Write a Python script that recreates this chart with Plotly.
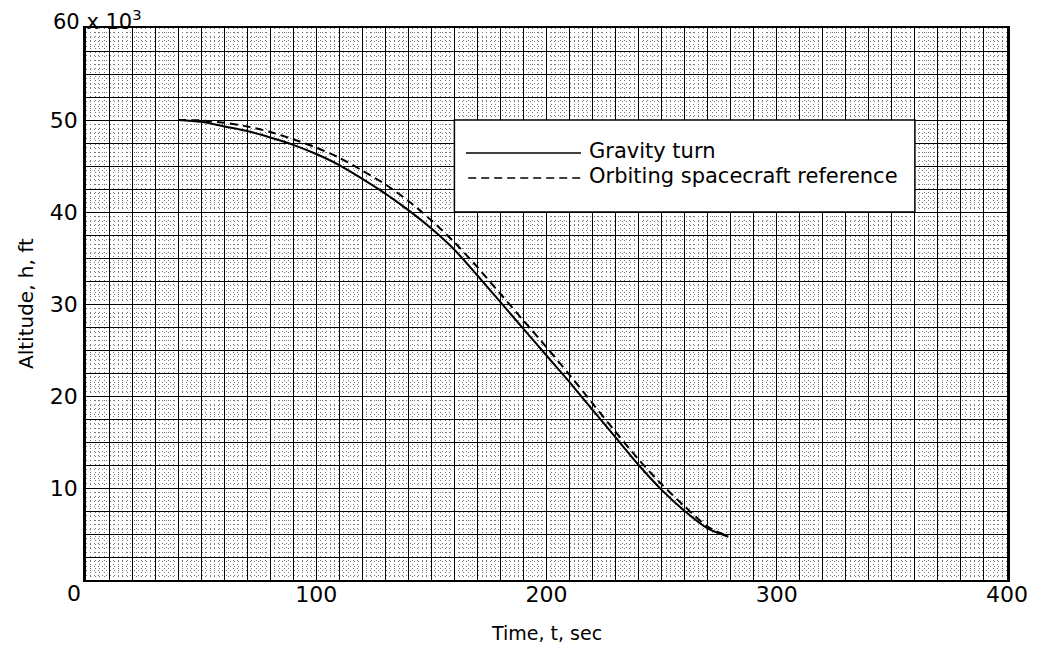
import plotly.graph_objects as go

# ---- data ----
t_gravity = [40, 50, 60, 70, 80, 90, 100, 110, 120, 130, 140, 150, 160, 170, 180,
             190, 200, 210, 220, 230, 240, 250, 260, 270, 279]
h_gravity = [50.0, 49.8, 49.3, 48.8, 48.1, 47.3, 46.3, 45.1, 43.6, 42.0, 40.2, 38.2,
             35.9, 33.1, 30.2, 27.3, 24.4, 21.5, 18.5, 15.5, 12.5, 9.8, 7.5, 5.6, 4.7]

t_orbit = [40, 50, 60, 70, 80, 90, 100, 110, 120, 130, 140, 150, 160, 170, 180,
           190, 200, 210, 220, 230, 240, 250, 260, 270, 278]
h_orbit = [50.0, 49.95, 49.7, 49.3, 48.7, 47.9, 47.0, 45.9, 44.5, 43.0, 41.2, 39.1,
           36.7, 34.0, 31.1, 28.2, 25.3, 22.3, 19.2, 16.1, 13.1, 10.4, 8.0, 5.8, 4.85]

series_names = ["Gravity turn", "Orbiting spacecraft reference"]

x_tick_vals = list(range(0, 401, 10))
x_tick_text = [str(v) if v % 100 == 0 and v > 0 else "" for v in x_tick_vals]
y_tick_vals = [v * 2.5 for v in range(0, 25)]
y_tick_text = [str(int(v)) if v % 10 == 0 and 0 < v < 60 else "" for v in y_tick_vals]

FONT = "DejaVu Sans"

fig = go.Figure()
fig.add_trace(go.Scatter(x=t_gravity, y=h_gravity, mode="lines",
                         line=dict(color="black", width=2, shape="spline", smoothing=0.8),
                         name=series_names[0], showlegend=False, hoverinfo="skip"))
fig.add_trace(go.Scatter(x=t_orbit, y=h_orbit, mode="lines",
                         line=dict(color="black", width=2, dash="8px,5px", shape="spline", smoothing=0.8),
                         name=series_names[1], showlegend=False, hoverinfo="skip"))

# legend box (white patch on the graph paper)
fig.add_shape(type="rect", xref="x", yref="y", x0=160, x1=360, y0=40, y1=50,
              fillcolor="white", line=dict(color="black", width=1.5), layer="between")
# legend samples
fig.add_shape(type="line", xref="x", yref="y", x0=165, x1=215, y0=46.4, y1=46.4,
              line=dict(color="black", width=1.5))
fig.add_shape(type="line", xref="x", yref="y", x0=166, x1=215, y0=43.7, y1=43.7,
              line=dict(color="black", width=1.5, dash="8px,5px"))
fig.add_annotation(xref="x", yref="y", x=217.5, y=46.6, text=series_names[0],
                   showarrow=False, xanchor="left", yanchor="middle",
                   font=dict(family=FONT, size=21, color="black"))
fig.add_annotation(xref="x", yref="y", x=217.5, y=43.9, text=series_names[1],
                   showarrow=False, xanchor="left", yanchor="middle",
                   font=dict(family=FONT, size=21, color="black"))

# top y label with multiplier
fig.add_annotation(xref="paper", yref="paper", x=0, y=1, xshift=-35, yshift=8,
                   text="60 x 10<sup>3</sup>", showarrow=False, xanchor="left", yanchor="middle",
                   font=dict(family=FONT, size=21, color="black"))
# x zero label
fig.add_annotation(xref="paper", yref="paper", x=0, y=0, xshift=-12, yshift=-13,
                   text="0", showarrow=False, xanchor="center", yanchor="middle",
                   font=dict(family=FONT, size=22, color="black"))
# axis titles
fig.add_annotation(xref="paper", yref="paper", x=0.5, y=0, yshift=-53,
                   text="Time, t, sec", showarrow=False, xanchor="center", yanchor="middle",
                   font=dict(family=FONT, size=19, color="black"))
fig.add_annotation(xref="paper", yref="paper", x=0, y=0.5, xshift=-60,
                   text="Altitude, h, ft", showarrow=False, textangle=-90,
                   xanchor="center", yanchor="middle",
                   font=dict(family=FONT, size=20, color="black"))

fig.update_xaxes(range=[0, 400], tickmode="array", tickvals=x_tick_vals, ticktext=x_tick_text,
                 ticks="", ticklabelstandoff=-6,
                 showgrid=True, gridcolor="black", gridwidth=1.3,
                 minor=dict(tickmode="linear", tick0=0, dtick=2, showgrid=True,
                            gridcolor="#777777", gridwidth=1, griddash="1px,3px", ticks=""),
                 showline=True, mirror=True, linecolor="black", linewidth=2,
                 zeroline=False, tickfont=dict(family=FONT, size=22, color="black"))
fig.update_yaxes(range=[0, 60], tickmode="array", tickvals=y_tick_vals, ticktext=y_tick_text,
                 ticks="", ticklabelstandoff=1,
                 showgrid=True, gridcolor="black", gridwidth=1.3,
                 minor=dict(tickmode="linear", tick0=0, dtick=0.5, showgrid=True,
                            gridcolor="#777777", gridwidth=1, griddash="1px,3px", ticks=""),
                 showline=True, mirror=True, linecolor="black", linewidth=2.5,
                 zeroline=False, tickfont=dict(family=FONT, size=22, color="black"))

fig.update_layout(width=1040, height=654, margin=dict(l=86, r=31, t=28, b=74),
                  plot_bgcolor="white", paper_bgcolor="white", showlegend=False)

fig.write_html("out.html")
